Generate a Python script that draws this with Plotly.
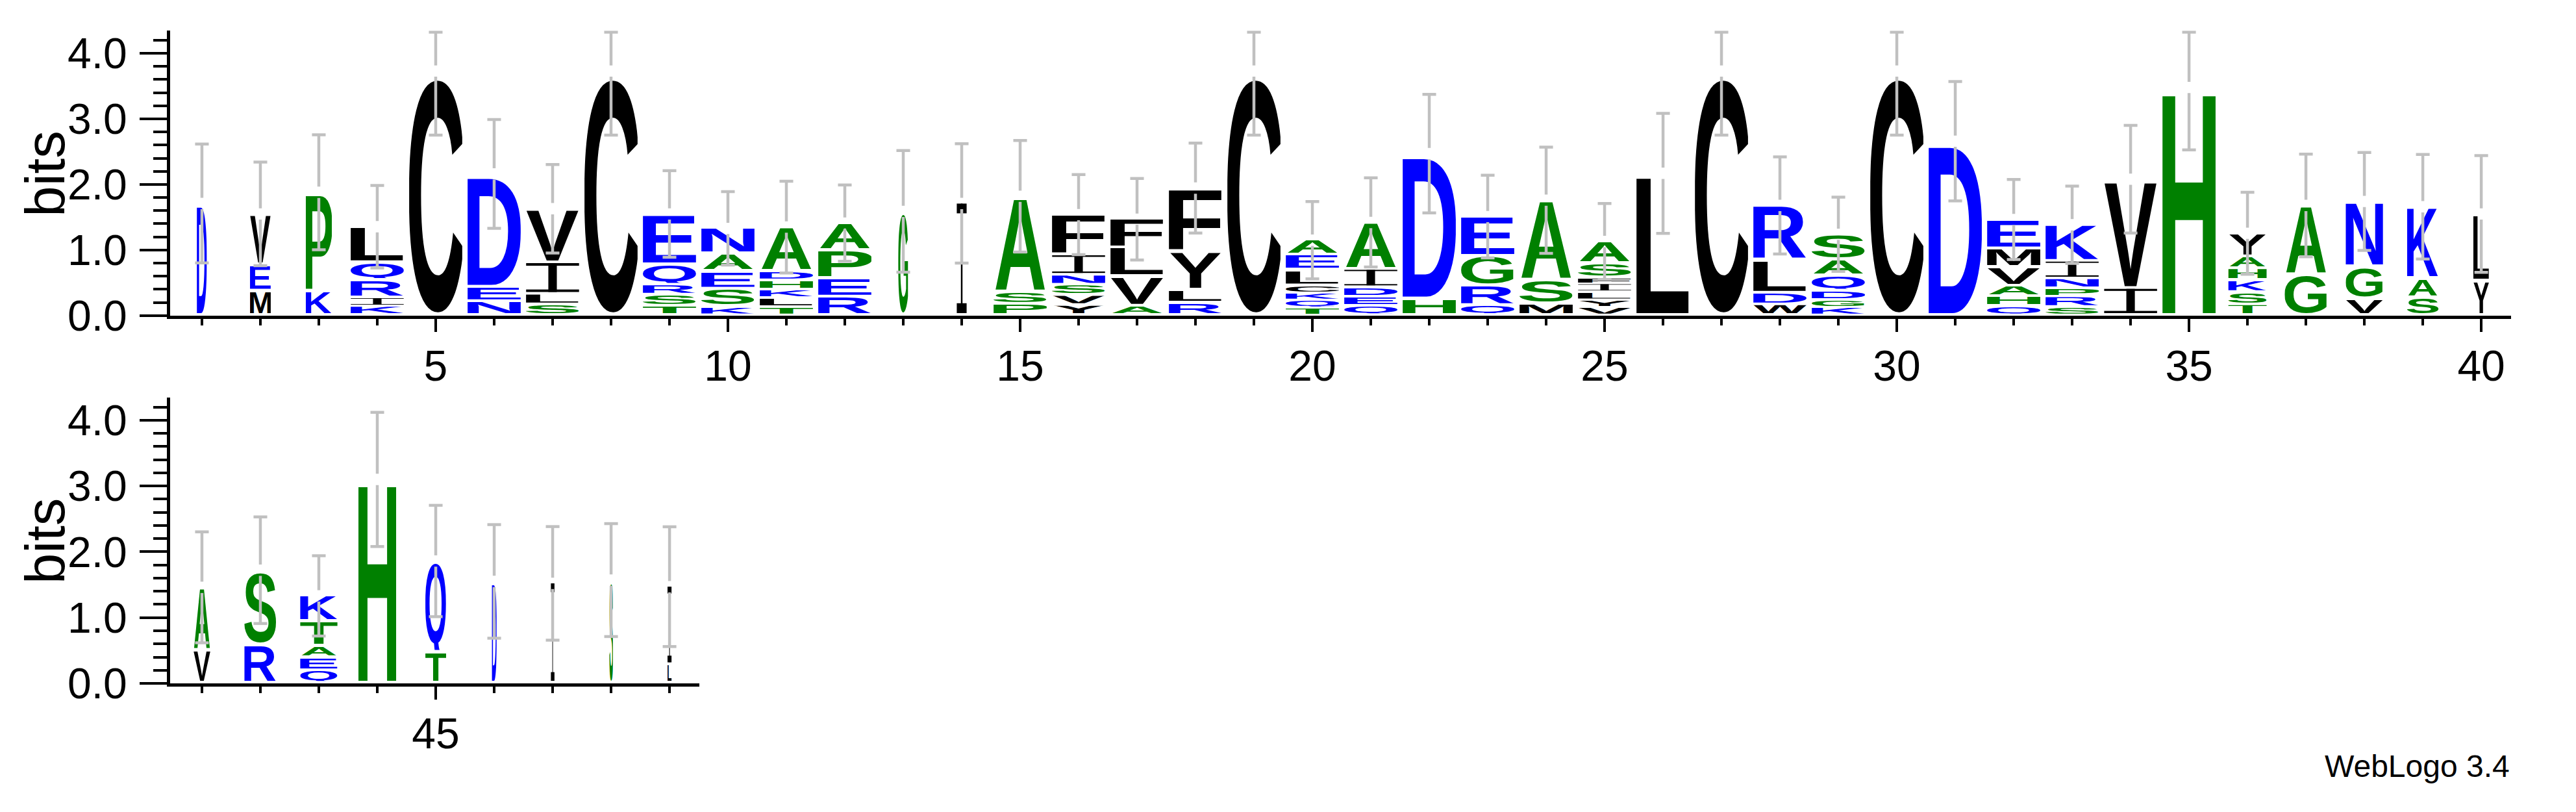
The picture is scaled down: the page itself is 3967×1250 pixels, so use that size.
import base64
import plotly.graph_objects as go

positions = list(range(1, 50))

# letters of each stack, bottom -> top
stack_letters = [
    "D", "MEV", "KP", "KIRQL", "C", "NED", "SLIV", "C", "TSRQE", "KSEAN",
    "TLKHDA", "REPA", "G", "I", "PSA", "YVSNIF", "AVLF", "RLYF", "C", "TQKCLEA",
    "QEDIA", "HD", "QRGE", "MSA", "VYLIFSA", "L", "C", "WDLR", "KGDQAS", "C",
    "D", "QHAVME", "SRPNIK", "IV", "H", "TSKHAY", "GA", "VGN", "SAK", "YL",
    "VA", "RS", "QEATK", "H", "TQ", "D", "I", "S", "LI",
]

# height (bits) of each letter, bottom -> top
stack_heights = [
    [1.71], [0.37, 0.40, 0.78], [0.37, 1.51], [0.135, 0.13, 0.27, 0.27, 0.55],
    [3.73], [0.21, 0.22, 1.73], [0.16, 0.16, 0.48, 0.83], [3.73],
    [0.14, 0.17, 0.15, 0.31, 0.78], [0.13, 0.27, 0.27, 0.27, 0.39],
    [0.12, 0.14, 0.13, 0.14, 0.14, 0.68], [0.28, 0.28, 0.43, 0.42],
    [1.59], [1.71], [0.17, 0.19, 1.46], [0.15, 0.15, 0.16, 0.15, 0.31, 0.62],
    [0.14, 0.45, 0.44, 0.44], [0.185, 0.20, 0.59, 0.97], [3.73],
    [0.11, 0.12, 0.11, 0.11, 0.24, 0.23, 0.23], [0.14, 0.14, 0.14, 0.28, 0.72],
    [0.25, 2.22], [0.15, 0.30, 0.45, 0.61], [0.17, 0.36, 1.23],
    [0.12, 0.11, 0.12, 0.13, 0.09, 0.22, 0.34], [2.17], [3.73],
    [0.16, 0.18, 0.50, 0.84], [0.12, 0.11, 0.14, 0.23, 0.25, 0.39], [3.73],
    [2.66], [0.135, 0.15, 0.16, 0.285, 0.285, 0.45],
    [0.12, 0.16, 0.125, 0.15, 0.27, 0.56], [0.41, 1.67], [3.48],
    [0.16, 0.19, 0.18, 0.18, 0.185, 0.36], [0.62, 1.06], [0.25, 0.49, 1.00],
    [0.27, 0.29, 1.10], [0.52, 1.03], [0.50, 0.96], [0.58, 1.14],
    [0.19, 0.20, 0.17, 0.38, 0.39], [3.10], [0.47, 1.39], [1.55], [1.52],
    [1.57], [0.28, 1.19],
]

# relative stack width (column occupancy)
stack_width = [
    0.19, 0.39, 0.49, 1, 1, 1, 1, 1, 1, 1,
    1, 1, 0.19, 0.19, 1, 1, 1, 1, 1, 1,
    1, 1, 1, 1, 1, 1, 1, 1, 1, 1,
    1, 1, 1, 1, 1, 0.72, 0.80, 0.70, 0.59, 0.30,
    0.32, 0.60, 0.70, 0.71, 0.39, 0.09, 0.07, 0.07, 0.08,
]

# error (bits) at the top of each stack
error_bits = [
    0.906, 0.79, 0.877, 0.63, 0.978, 0.83, 0.675, 0.978, 0.66, 0.56,
    0.70, 0.583, 0.928, 0.91, 0.85, 0.61, 0.622, 0.685, 0.978, 0.59,
    0.68, 0.903, 0.63, 0.81, 0.58, 0.915, 0.978, 0.74, 0.565, 0.978,
    0.91, 0.61, 0.59, 0.82, 0.953, 0.626, 0.782, 0.747, 0.797, 0.89,
    0.843, 0.81, 0.61, 1.02, 0.846, 0.863, 0.863, 0.858, 0.91,
]

max_bits = 4.3219  # log2(20)

# ---------------- styles ----------------
BLUE, GREEN, BLACK = "#0000FF", "#008000", "#000000"
colour_of = {}
for ch in "RKDENQ":
    colour_of[ch] = BLUE
for ch in "SGHTAP":
    colour_of[ch] = GREEN
for ch in "YVMCLFIW":
    colour_of[ch] = BLACK

# approximate bold sans glyph metrics (1000 units): advance, lsb, rsb, top, bottom
metrics = {
    "A": (722, 0, 0, 716, 0), "C": (722, 44, 44, 728, 12), "D": (722, 76, 44, 716, 0),
    "E": (667, 76, 40, 716, 0), "F": (611, 76, 30, 716, 0), "G": (778, 44, 50, 728, 12),
    "H": (722, 73, 73, 716, 0), "K": (722, 76, 0, 716, 0), "L": (611, 73, 20, 716, 0),
    "M": (833, 73, 73, 716, 0), "N": (722, 73, 73, 716, 0), "P": (667, 76, 44, 716, 0),
    "Q": (778, 44, 40, 728, 60), "R": (722, 76, 10, 716, 0), "S": (667, 35, 35, 728, 12),
    "T": (611, 22, 22, 716, 0), "V": (667, 0, 0, 716, 0), "W": (944, 5, 5, 716, 0),
    "Y": (667, 0, 0, 716, 0),
}

_cache = {}


def glyph_uri(letter, colour):
    key = (letter, colour)
    if key in _cache:
        return _cache[key]
    if letter == "I":
        svg = ('<svg xmlns="http://www.w3.org/2000/svg" width="100" height="100" '
               'viewBox="0 0 100 100" preserveAspectRatio="none">'
               f'<rect x="0" y="0" width="100" height="9" fill="{colour}"/>'
               f'<rect x="42" y="0" width="16" height="100" fill="{colour}"/>'
               f'<rect x="0" y="91" width="100" height="9" fill="{colour}"/></svg>')
    else:
        adv, lsb, rsb, top, bot = metrics[letter]
        w = adv - lsb - rsb
        h = top + bot
        svg = ('<svg xmlns="http://www.w3.org/2000/svg" '
               f'width="{w}" height="{h}" viewBox="{lsb} {-top} {w} {h}" '
               'preserveAspectRatio="none">'
               '<text x="0" y="0" font-family="Liberation Sans, Arial, Helvetica, sans-serif" '
               f'font-weight="700" font-size="1000" fill="{colour}">{letter}</text></svg>')
    uri = "data:image/svg+xml;base64," + base64.b64encode(svg.encode()).decode()
    _cache[key] = uri
    return uri


GAP_BITS = 0.038      # small gap under each glyph
SLOT = 0.908          # glyph width as fraction of a column
ERR_GAP = 0.086       # gap in the error bar around the stack top
CAP = 0.117           # half width of the error-bar caps
ERR_COLOUR = "#c0c0c0"

images = []
err = {1: ([], []), 2: ([], [])}
for p, letters, heights, wf, e in zip(positions, stack_letters, stack_heights,
                                      stack_width, error_bits):
    row = 1 if p <= 40 else 2
    xr, yr = ("x", "y") if row == 1 else ("x2", "y2")
    width = SLOT * wf
    base = 0.0
    for ch, h in zip(letters, heights):
        pad = min(GAP_BITS, 0.25 * h)
        images.append(dict(
            source=glyph_uri(ch, colour_of[ch]), xref=xr, yref=yr,
            x=p - width / 2, y=base + h, sizex=width, sizey=h - pad,
            xanchor="left", yanchor="top", sizing="stretch", layer="below"))
        base += h
    top = base
    lo = top - e
    hi = min(top + e, max_bits)
    xs, ys = err[row]
    xs += [p, p, None]
    ys += [lo, top - ERR_GAP, None]
    if top + ERR_GAP < hi:
        xs += [p, p, None]
        ys += [top + ERR_GAP, hi, None]
    xs += [p - CAP, p + CAP, None, p - CAP, p + CAP, None]
    ys += [lo, lo, None, hi, hi, None]

fig = go.Figure()
for row in (1, 2):
    xs, ys = err[row]
    fig.add_trace(go.Scatter(
        x=xs, y=ys, mode="lines", hoverinfo="skip", showlegend=False,
        line=dict(color=ERR_COLOUR, width=4.5),
        xaxis="x" if row == 1 else "x2", yaxis="y" if row == 1 else "y2"))

W, H = 3967, 1250


def fx(px):
    return px / W


def fy(py):
    return 1 - py / H


FONT = "Liberation Sans, Arial, Helvetica, sans-serif"
tickfont = dict(family=FONT, size=66, color="black")


def xaxis_style(rng, domain):
    return dict(range=rng, domain=domain, showgrid=False, zeroline=False,
                showline=True, linewidth=5, linecolor="black",
                ticks="outside", ticklen=20, tickwidth=4, tickcolor="black",
                tick0=0, dtick=5, tickfont=tickfont, ticklabelstandoff=-4,
                minor=dict(ticks="outside", ticklen=10, tickwidth=4,
                           tickcolor="black", tick0=0, dtick=1),
                fixedrange=True)


def yaxis_style(domain, anchor):
    return dict(range=[0, 4.345], domain=domain, anchor=anchor, showgrid=False,
                zeroline=False, showline=True, linewidth=5, linecolor="black",
                ticks="outside", ticklen=42, tickwidth=4, tickcolor="black",
                tick0=0, dtick=1, tickformat=".1f", tickfont=tickfont,
                ticklabelstandoff=6,
                minor=dict(ticks="outside", ticklen=21, tickwidth=4,
                           tickcolor="black", tick0=0, dtick=0.2),
                fixedrange=True)


fig.update_layout(
    width=W, height=H, margin=dict(l=0, r=0, t=0, b=0),
    paper_bgcolor="white", plot_bgcolor="rgba(0,0,0,0)",
    xaxis=dict(**xaxis_style([0.456, 40.51], [fx(262), fx(3867)]), anchor="y"),
    yaxis=yaxis_style([fy(500), fy(47.7)], "x"),
    xaxis2=dict(**xaxis_style([40.456, 49.51], [fx(262), fx(1077)]), anchor="y2"),
    yaxis2=yaxis_style([fy(1084), fy(630)], "x2"),
    images=images,
    annotations=[
        dict(text="bits", x=fx(70), y=fy(275), xref="paper", yref="paper",
             textangle=-90, showarrow=False, xanchor="center", yanchor="middle",
             font=dict(family=FONT, size=85, color="black")),
        dict(text="bits", x=fx(70), y=fy(858), xref="paper", yref="paper",
             textangle=-90, showarrow=False, xanchor="center", yanchor="middle",
             font=dict(family=FONT, size=85, color="black")),
        dict(text="WebLogo 3.4", x=fx(3867), y=fy(1245), xref="paper",
             yref="paper", showarrow=False, xanchor="right", yanchor="bottom",
             font=dict(family=FONT, size=48, color="black")),
    ],
    hovermode=False,
)

# remove the default 8px page margin so the figure fills the window exactly
fig.write_html("out.html", config={"displayModeBar": False},
               post_script="document.body.style.margin='0';")
